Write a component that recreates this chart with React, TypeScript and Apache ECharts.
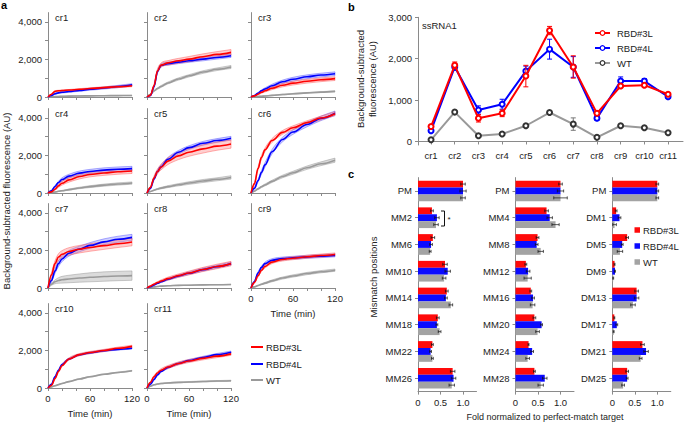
import React, { useEffect, useRef } from 'react';
import * as echarts from 'echarts';

// ================= Panel a: kinetics (Time (min) vs fluorescence) =================
const TIME_MIN = [0, 5, 10, 15, 20, 30, 45, 60, 80, 100, 120];
const A_PANELS = ['cr1', 'cr2', 'cr3', 'cr4', 'cr5', 'cr6', 'cr7', 'cr8', 'cr9', 'cr10', 'cr11'];
const A_TIME_TICKS = [0, 20, 40, 60, 80, 100, 120];
const A_TIME_LABELS = [0, 60, 120];
const A_Y_TICKS = [0, 1000, 2000, 3000, 4000];
const A_Y_LABELS = [0, 2000, 4000];

const cr1_RBD3L = [0, 150, 300, 330, 345, 370, 410, 450, 500, 550, 600];
const cr1_RBD3L_SD = [0, 20, 30, 30, 30, 30, 35, 40, 45, 50, 50];
const cr1_RBD4L = [0, 80, 170, 220, 250, 290, 350, 410, 480, 560, 650];
const cr1_RBD4L_SD = [0, 20, 30, 35, 40, 40, 45, 50, 55, 60, 60];
const cr1_WT = [0, 10, 20, 30, 35, 45, 55, 60, 70, 75, 80];
const cr1_WT_SD = [0, 5, 8, 10, 10, 10, 10, 10, 10, 10, 10];

const cr2_RBD3L = [0, 100, 600, 1400, 1700, 1820, 1930, 2020, 2150, 2270, 2380];
const cr2_RBD3L_SD = [0, 30, 80, 100, 110, 120, 130, 140, 150, 150, 150];
const cr2_RBD4L = [0, 80, 550, 1350, 1680, 1780, 1860, 1930, 2020, 2110, 2200];
const cr2_RBD4L_SD = [0, 30, 60, 80, 80, 80, 80, 80, 90, 90, 90];
const cr2_WT = [0, 150, 320, 450, 560, 750, 960, 1130, 1330, 1480, 1600];
const cr2_WT_SD = [0, 20, 30, 40, 50, 50, 60, 60, 70, 70, 80];

const cr3_RBD3L = [0, 60, 150, 250, 330, 470, 630, 740, 840, 920, 980];
const cr3_RBD3L_SD = [0, 20, 40, 50, 60, 80, 90, 100, 100, 100, 100];
const cr3_RBD4L = [0, 80, 200, 330, 430, 600, 810, 950, 1080, 1170, 1240];
const cr3_RBD4L_SD = [0, 20, 40, 50, 60, 80, 90, 100, 100, 100, 100];
const cr3_WT = [0, 10, 25, 40, 55, 85, 130, 170, 220, 260, 300];
const cr3_WT_SD = [0, 5, 10, 10, 15, 15, 20, 20, 20, 25, 25];

const cr4_RBD3L = [0, 60, 200, 380, 520, 700, 880, 990, 1070, 1130, 1170];
const cr4_RBD3L_SD = [0, 20, 50, 80, 100, 120, 130, 130, 130, 130, 130];
const cr4_RBD4L = [0, 120, 350, 560, 720, 900, 1060, 1150, 1220, 1270, 1300];
const cr4_RBD4L_SD = [0, 20, 50, 70, 90, 100, 110, 110, 120, 120, 120];
const cr4_WT = [0, 20, 50, 90, 120, 180, 270, 340, 420, 480, 530];
const cr4_WT_SD = [0, 5, 10, 15, 20, 30, 40, 50, 55, 60, 60];

const cr5_RBD3L = [0, 300, 800, 1150, 1380, 1700, 1980, 2170, 2350, 2500, 2610];
const cr5_RBD3L_SD = [0, 50, 100, 130, 150, 180, 200, 210, 220, 220, 220];
const cr5_RBD4L = [0, 250, 750, 1150, 1400, 1800, 2170, 2420, 2650, 2800, 2920];
const cr5_RBD4L_SD = [0, 40, 70, 90, 100, 100, 100, 100, 100, 100, 100];
const cr5_WT = [0, 80, 150, 210, 260, 340, 440, 530, 640, 730, 830];
const cr5_WT_SD = [0, 15, 25, 30, 40, 50, 60, 70, 80, 80, 90];

const cr6_RBD3L = [0, 500, 1300, 1900, 2300, 2800, 3230, 3480, 3750, 4000, 4230];
const cr6_RBD3L_SD = [0, 50, 80, 100, 100, 100, 100, 100, 100, 100, 100];
const cr6_RBD4L = [0, 250, 650, 1100, 1500, 2200, 2850, 3250, 3650, 3980, 4250];
const cr6_RBD4L_SD = [0, 40, 70, 100, 120, 120, 120, 120, 120, 120, 120];
const cr6_WT = [0, 100, 220, 330, 430, 620, 880, 1080, 1350, 1560, 1750];
const cr6_WT_SD = [0, 20, 30, 40, 50, 60, 70, 80, 90, 100, 110];

const cr7_RBD3L = [0, 700, 1300, 1650, 1800, 1950, 2070, 2160, 2260, 2360, 2450];
const cr7_RBD3L_SD = [0, 120, 150, 180, 190, 200, 200, 200, 200, 200, 200];
const cr7_RBD4L = [0, 400, 900, 1300, 1550, 1850, 2080, 2270, 2460, 2600, 2700];
const cr7_RBD4L_SD = [0, 80, 120, 150, 150, 150, 150, 150, 160, 160, 160];
const cr7_WT = [0, 200, 330, 400, 440, 480, 530, 570, 610, 640, 660];
const cr7_WT_SD = [0, 60, 100, 150, 180, 200, 220, 240, 250, 250, 250];

const cr8_RBD3L = [0, 100, 200, 290, 370, 500, 660, 800, 990, 1150, 1300];
const cr8_RBD3L_SD = [0, 20, 40, 50, 60, 80, 90, 100, 110, 120, 120];
const cr8_RBD4L = [0, 70, 160, 250, 330, 470, 640, 790, 980, 1140, 1300];
const cr8_RBD4L_SD = [0, 15, 25, 35, 40, 50, 60, 70, 80, 80, 80];
const cr8_WT = [0, 30, 60, 80, 100, 120, 140, 150, 165, 175, 185];
const cr8_WT_SD = [0, 5, 8, 10, 10, 10, 10, 10, 10, 10, 10];

const cr9_RBD3L = [0, 300, 650, 950, 1150, 1380, 1520, 1590, 1670, 1730, 1790];
const cr9_RBD3L_SD = [0, 40, 60, 70, 80, 80, 80, 80, 80, 80, 80];
const cr9_RBD4L = [0, 350, 800, 1100, 1300, 1480, 1570, 1610, 1660, 1700, 1740];
const cr9_RBD4L_SD = [0, 40, 60, 70, 80, 80, 80, 80, 80, 80, 80];
const cr9_WT = [0, 60, 130, 200, 260, 380, 530, 640, 770, 870, 950];
const cr9_WT_SD = [0, 10, 20, 30, 40, 50, 55, 60, 60, 60, 60];

const cr10_RBD3L = [0, 150, 500, 880, 1200, 1550, 1780, 1890, 2000, 2120, 2220];
const cr10_RBD3L_SD = [0, 20, 40, 50, 60, 60, 60, 60, 60, 60, 60];
const cr10_RBD4L = [0, 200, 600, 950, 1250, 1550, 1770, 1880, 1990, 2060, 2120];
const cr10_RBD4L_SD = [0, 20, 30, 40, 40, 40, 40, 40, 40, 40, 40];
const cr10_WT = [0, 60, 120, 180, 240, 340, 480, 600, 730, 830, 920];
const cr10_WT_SD = [0, 5, 10, 10, 15, 15, 20, 20, 20, 20, 20];

const cr11_RBD3L = [0, 300, 600, 800, 950, 1120, 1310, 1440, 1580, 1700, 1820];
const cr11_RBD3L_SD = [0, 40, 60, 70, 80, 80, 80, 80, 80, 80, 80];
const cr11_RBD4L = [0, 200, 450, 700, 880, 1100, 1310, 1460, 1630, 1780, 1910];
const cr11_RBD4L_SD = [0, 30, 40, 50, 50, 60, 60, 60, 60, 60, 60];
const cr11_WT = [0, 100, 170, 210, 240, 270, 300, 320, 350, 370, 390];
const cr11_WT_SD = [0, 10, 15, 20, 20, 20, 20, 25, 25, 25, 25];

// ================= Panel b: ssRNA1 endpoint =================
const B_CATEGORIES = ['cr1', 'cr2', 'cr3', 'cr4', 'cr5', 'cr6', 'cr7', 'cr8', 'cr9', 'cr10', 'cr11'];
const B_RBD3L = [360, 1840, 560, 680, 1580, 2680, 1800, 680, 1340, 1360, 1140];
const B_RBD3L_ERR = [30, 80, 90, 80, 260, 100, 270, 50, 40, 40, 30];
const B_RBD4L = [260, 1800, 760, 900, 1700, 2230, 1800, 560, 1460, 1460, 1080];
const B_RBD4L_ERR = [30, 80, 100, 120, 120, 240, 250, 50, 100, 60, 40];
const B_WT = [40, 710, 140, 180, 380, 700, 420, 100, 380, 330, 210];
const B_WT_ERR = [15, 20, 20, 20, 20, 25, 150, 15, 20, 20, 20];
const B_Y_TICKS = [0, 1000, 2000, 3000];

// ================= Panel c: mismatch tolerance =================
const C1_CATEGORIES = ['PM', 'MM2', 'MM6', 'MM10', 'MM14', 'MM18', 'MM22', 'MM26'];
const C1_RBD3L = [1.0, 0.31, 0.33, 0.6, 0.64, 0.44, 0.32, 0.77];
const C1_RBD3L_ERR = [0.05, 0.03, 0.04, 0.05, 0.03, 0.03, 0.02, 0.05];
const C1_RBD4L = [1.0, 0.42, 0.29, 0.66, 0.62, 0.42, 0.28, 0.79];
const C1_RBD4L_ERR = [0.07, 0.05, 0.03, 0.06, 0.03, 0.02, 0.02, 0.05];
const C1_WT = [1.0, 0.4, 0.27, 0.58, 0.73, 0.48, 0.32, 0.75];
const C1_WT_ERR = [0.05, 0.05, 0.02, 0.04, 0.04, 0.03, 0.02, 0.06];

const C2_CATEGORIES = ['PM', 'MM4', 'MM8', 'MM12', 'MM16', 'MM20', 'MM24', 'MM28'];
const C2_RBD3L = [1.0, 0.69, 0.49, 0.23, 0.34, 0.42, 0.29, 0.42];
const C2_RBD3L_ERR = [0.04, 0.04, 0.03, 0.02, 0.02, 0.03, 0.01, 0.02];
const C2_RBD4L = [1.0, 0.76, 0.47, 0.28, 0.39, 0.58, 0.37, 0.65];
const C2_RBD4L_ERR = [0.07, 0.06, 0.03, 0.04, 0.03, 0.02, 0.03, 0.05];
const C2_WT = [1.0, 0.89, 0.56, 0.27, 0.38, 0.49, 0.27, 0.56];
const C2_WT_ERR = [0.15, 0.08, 0.06, 0.08, 0.05, 0.04, 0.04, 0.06];

const C3_CATEGORIES = ['PM', 'DM1', 'DM5', 'DM9', 'DM13', 'DM17', 'DM21', 'DM25'];
const C3_RBD3L = [1.0, 0.085, 0.33, 0.05, 0.54, 0.045, 0.67, 0.33];
const C3_RBD3L_ERR = [0.03, 0.02, 0.03, 0.01, 0.04, 0.01, 0.04, 0.03];
const C3_RBD4L = [1.0, 0.16, 0.22, 0.06, 0.54, 0.1, 0.75, 0.33];
const C3_RBD4L_ERR = [0.03, 0.03, 0.02, 0.01, 0.05, 0.02, 0.05, 0.02];
const C3_WT = [1.0, 0.05, 0.17, 0.02, 0.46, 0.03, 0.63, 0.24];
const C3_WT_ERR = [0.03, 0.04, 0.06, 0.01, 0.05, 0.01, 0.03, 0.03];
const C_X_TICKS = [0, 0.5, 1];

// ================= styling / layout =================
const FONT = '"Liberation Sans", Arial, Helvetica, sans-serif';
const AXIS_COLOR = '#8a8a8a';
const TEXT_COLOR = '#222222';
const FS = 9.5;

const A_COL_X = [48, 147, 251];
const A_ZERO_Y = [97, 193, 288, 388];
const A_W = 84;
const A_H = 84.4;

const A_DATA: Record<string, Record<string, [number[], number[]]>> = {
  cr1: { RBD3L: [cr1_RBD3L, cr1_RBD3L_SD], RBD4L: [cr1_RBD4L, cr1_RBD4L_SD], WT: [cr1_WT, cr1_WT_SD] },
  cr2: { RBD3L: [cr2_RBD3L, cr2_RBD3L_SD], RBD4L: [cr2_RBD4L, cr2_RBD4L_SD], WT: [cr2_WT, cr2_WT_SD] },
  cr3: { RBD3L: [cr3_RBD3L, cr3_RBD3L_SD], RBD4L: [cr3_RBD4L, cr3_RBD4L_SD], WT: [cr3_WT, cr3_WT_SD] },
  cr4: { RBD3L: [cr4_RBD3L, cr4_RBD3L_SD], RBD4L: [cr4_RBD4L, cr4_RBD4L_SD], WT: [cr4_WT, cr4_WT_SD] },
  cr5: { RBD3L: [cr5_RBD3L, cr5_RBD3L_SD], RBD4L: [cr5_RBD4L, cr5_RBD4L_SD], WT: [cr5_WT, cr5_WT_SD] },
  cr6: { RBD3L: [cr6_RBD3L, cr6_RBD3L_SD], RBD4L: [cr6_RBD4L, cr6_RBD4L_SD], WT: [cr6_WT, cr6_WT_SD] },
  cr7: { RBD3L: [cr7_RBD3L, cr7_RBD3L_SD], RBD4L: [cr7_RBD4L, cr7_RBD4L_SD], WT: [cr7_WT, cr7_WT_SD] },
  cr8: { RBD3L: [cr8_RBD3L, cr8_RBD3L_SD], RBD4L: [cr8_RBD4L, cr8_RBD4L_SD], WT: [cr8_WT, cr8_WT_SD] },
  cr9: { RBD3L: [cr9_RBD3L, cr9_RBD3L_SD], RBD4L: [cr9_RBD4L, cr9_RBD4L_SD], WT: [cr9_WT, cr9_WT_SD] },
  cr10: { RBD3L: [cr10_RBD3L, cr10_RBD3L_SD], RBD4L: [cr10_RBD4L, cr10_RBD4L_SD], WT: [cr10_WT, cr10_WT_SD] },
  cr11: { RBD3L: [cr11_RBD3L, cr11_RBD3L_SD], RBD4L: [cr11_RBD4L, cr11_RBD4L_SD], WT: [cr11_WT, cr11_WT_SD] },
};

const A_STYLES = [
  { key: 'WT', name: 'WT', line: '#9a9a9a', fill: 'rgba(190,190,190,0.55)', stroke: 'rgba(150,150,150,0.8)' },
  { key: 'RBD4L', name: 'RBD#4L', line: '#0000ff', fill: 'rgba(130,130,255,0.38)', stroke: 'rgba(80,80,255,0.75)' },
  { key: 'RBD3L', name: 'RBD#3L', line: '#ff0000', fill: 'rgba(255,130,130,0.38)', stroke: 'rgba(255,80,80,0.75)' },
];

const fmtThousands = (v: number) => String(Math.round(v)).replace(/\B(?=(\d{3})+(?!\d))/g, ',');

// monotone cubic path through pixel points (rendering only)
function monoPath(ctx: any, p: number[][]) {
  const n = p.length;
  if (n < 2) return;
  const dx: number[] = [], m: number[] = [], t: number[] = [];
  for (let i = 0; i < n - 1; i++) {
    dx[i] = p[i + 1][0] - p[i][0];
    m[i] = dx[i] !== 0 ? (p[i + 1][1] - p[i][1]) / dx[i] : 0;
  }
  t[0] = m[0];
  t[n - 1] = m[n - 2];
  for (let i = 1; i < n - 1; i++) t[i] = m[i - 1] * m[i] <= 0 ? 0 : (m[i - 1] + m[i]) / 2;
  for (let i = 0; i < n - 1; i++) {
    if (m[i] === 0) { t[i] = 0; t[i + 1] = 0; continue; }
    const a = t[i] / m[i], b = t[i + 1] / m[i];
    const s = a * a + b * b;
    if (s > 9) { const tau = 3 / Math.sqrt(s); t[i] = tau * a * m[i]; t[i + 1] = tau * b * m[i]; }
  }
  for (let i = 0; i < n - 1; i++) {
    const h = dx[i] / 3;
    ctx.bezierCurveTo(p[i][0] + h, p[i][1] + t[i] * h, p[i + 1][0] - h, p[i + 1][1] - t[i + 1] * h, p[i + 1][0], p[i + 1][1]);
  }
}

const BandShape = (echarts as any).graphic.extendShape({
  shape: { top: [] as number[][], bot: [] as number[][] },
  buildPath(ctx: any, shape: any) {
    const top = shape.top as number[][];
    const bot = (shape.bot as number[][]).slice().reverse();
    if (!top.length) return;
    ctx.moveTo(top[0][0], top[0][1]);
    monoPath(ctx, top);
    ctx.lineTo(bot[0][0], bot[0][1]);
    monoPath(ctx, bot);
    ctx.closePath();
  },
});
(echarts as any).graphic.registerShape('kineticsBand', BandShape);

function txt(text: string, x: number, y: number, extra: any = {}) {
  return {
    type: 'text', x, y, silent: true, rotation: extra.rotation || 0,
    style: {
      text, fill: extra.fill || TEXT_COLOR, fontSize: extra.fontSize || FS, fontFamily: FONT,
      fontWeight: extra.fontWeight || 'normal',
      align: extra.align || 'left', textAlign: extra.align || 'left',
      verticalAlign: 'middle', textVerticalAlign: 'middle', lineHeight: extra.lineHeight,
    },
  };
}

function buildOption() {
  const grid: any[] = [], xAxis: any[] = [], yAxis: any[] = [], series: any[] = [], graphic: any[] = [];
  const axisLine = { show: true, lineStyle: { color: AXIS_COLOR, width: 1 } };
  const labelBase = { fontSize: FS, fontFamily: FONT, color: TEXT_COLOR };

  // ---------- panel a ----------
  A_PANELS.forEach((name, i) => {
    const col = i % 3, row = Math.floor(i / 3);
    const left = A_COL_X[col], zero = A_ZERO_Y[row];
    const g = grid.length;
    const isBottom = i >= 8;
    grid.push({ left, top: zero - A_H, width: A_W, height: A_H });
    xAxis.push({
      type: 'value', gridIndex: g, min: 0, max: 120,
      axisLine, splitLine: { show: false },
      axisTick: { show: true, length: 3, customValues: A_TIME_TICKS, lineStyle: { color: AXIS_COLOR } },
      axisLabel: { show: isBottom, customValues: A_TIME_LABELS, margin: 5, ...labelBase },
      name: isBottom ? 'Time (min)' : '', nameLocation: 'middle', nameGap: 20,
      nameTextStyle: { ...labelBase },
    });
    yAxis.push({
      type: 'value', gridIndex: g, min: 0, max: 4500,
      axisLine, splitLine: { show: false },
      axisTick: { show: true, length: 3, customValues: A_Y_TICKS, lineStyle: { color: AXIS_COLOR } },
      axisLabel: { show: col === 0, customValues: A_Y_LABELS, margin: 6, formatter: (v: number) => fmtThousands(v), ...labelBase },
    });
    const d = A_DATA[name];
    A_STYLES.forEach((st, k) => {
      const [mean, sd] = d[st.key];
      series.push({
        type: 'custom', xAxisIndex: g, yAxisIndex: g, silent: true, z: 1 + k,
        data: [[0, 0]],
        renderItem: (_p: any, api: any) => ({
          type: 'kineticsBand',
          shape: {
            top: TIME_MIN.map((t, j) => api.coord([t, mean[j] + sd[j]])),
            bot: TIME_MIN.map((t, j) => api.coord([t, Math.max(0, mean[j] - sd[j])])),
          },
          style: { fill: st.fill, stroke: st.stroke, lineWidth: 0.6 },
        }),
      });
      series.push({
        type: 'line', name: st.name, xAxisIndex: g, yAxisIndex: g, silent: true, z: 5 + k,
        data: TIME_MIN.map((t, j) => [t, mean[j]]),
        symbol: 'none', smooth: 0.35, smoothMonotone: 'x',
        lineStyle: { color: st.line, width: 1.6 },
      });
    });
    graphic.push(txt(name, left + 7, zero - A_H + 5));
  });

  // panel a legend
  [['RBD#3L', '#ff0000', 347], ['RBD#4L', '#0000ff', 364], ['WT', '#9a9a9a', 380]].forEach(([n, c, y]) => {
    graphic.push({ type: 'line', silent: true, shape: { x1: 251, y1: y as number, x2: 263, y2: y as number }, style: { stroke: c as string, lineWidth: 2 } });
    graphic.push(txt(n as string, 266, y as number));
  });

  // ---------- panel b ----------
  const gb = grid.length;
  grid.push({ left: 418, top: 17.3, width: 265, height: 127.7 });
  xAxis.push({
    type: 'value', gridIndex: gb, min: 0.45, max: 11.63,
    axisLine, splitLine: { show: false },
    axisTick: { show: true, length: 3, customValues: B_CATEGORIES.map((_, j) => j + 1), lineStyle: { color: AXIS_COLOR } },
    axisLabel: { customValues: B_CATEGORIES.map((_, j) => j + 1), margin: 5, formatter: (v: number) => B_CATEGORIES[Math.round(v) - 1] || '', ...labelBase },
  });
  yAxis.push({
    type: 'value', gridIndex: gb, min: -85, max: 3000,
    axisLine, splitLine: { show: false },
    axisTick: { show: true, length: 3, customValues: B_Y_TICKS, lineStyle: { color: AXIS_COLOR } },
    axisLabel: { customValues: B_Y_TICKS, margin: 6, formatter: (v: number) => fmtThousands(v), ...labelBase },
  });
  const bSeries = [
    { name: 'WT', vals: B_WT, err: B_WT_ERR, line: '#999999', mark: '#333333', z: 2 },
    { name: 'RBD#4L', vals: B_RBD4L, err: B_RBD4L_ERR, line: '#0000ff', mark: '#0000ff', z: 4 },
    { name: 'RBD#3L', vals: B_RBD3L, err: B_RBD3L_ERR, line: '#ff0000', mark: '#ff0000', z: 6 },
  ];
  bSeries.forEach((s) => {
    series.push({
      type: 'custom', xAxisIndex: gb, yAxisIndex: gb, silent: true, z: s.z,
      data: s.vals.map((v, j) => [j + 1, v, s.err[j]]),
      renderItem: (_p: any, api: any) => {
        const x = api.value(0), y = api.value(1), e = api.value(2);
        const a = api.coord([x, y + e]), b = api.coord([x, y - e]);
        const w = 2.5;
        const style = { stroke: s.mark === '#333333' ? '#777777' : s.line, lineWidth: 1 };
        return {
          type: 'group', children: [
            { type: 'line', shape: { x1: a[0], y1: a[1], x2: b[0], y2: b[1] }, style },
            { type: 'line', shape: { x1: a[0] - w, y1: a[1], x2: a[0] + w, y2: a[1] }, style },
            { type: 'line', shape: { x1: b[0] - w, y1: b[1], x2: b[0] + w, y2: b[1] }, style },
          ],
        };
      },
    });
    series.push({
      type: 'line', name: s.name, xAxisIndex: gb, yAxisIndex: gb, silent: true, z: s.z + 1,
      data: s.vals.map((v, j) => [j + 1, v]),
      symbol: 'emptyCircle', symbolSize: 5,
      lineStyle: { color: s.line, width: 2 },
      itemStyle: { color: s.mark, borderColor: s.mark, borderWidth: 1.2 },
    });
  });
  graphic.push(txt('ssRNA1', 422, 25));
  [['RBD#3L', '#ff0000', '#ff0000', 33], ['RBD#4L', '#0000ff', '#0000ff', 48], ['WT', '#999999', '#333333', 63]].forEach(([n, c, m, y]) => {
    graphic.push({ type: 'line', silent: true, shape: { x1: 595, y1: y as number, x2: 610, y2: y as number }, style: { stroke: c as string, lineWidth: 2 } });
    graphic.push({ type: 'circle', silent: true, shape: { cx: 602.5, cy: y as number, r: 2.3 }, style: { fill: '#fff', stroke: m as string, lineWidth: 1.2 } });
    graphic.push(txt(n as string, 617, y as number));
  });

  // ---------- panel c ----------
  const cPanels = [
    { left: 418, cats: C1_CATEGORIES, s: [[C1_RBD3L, C1_RBD3L_ERR], [C1_RBD4L, C1_RBD4L_ERR], [C1_WT, C1_WT_ERR]] },
    { left: 515.5, cats: C2_CATEGORIES, s: [[C2_RBD3L, C2_RBD3L_ERR], [C2_RBD4L, C2_RBD4L_ERR], [C2_WT, C2_WT_ERR]] },
    { left: 612.3, cats: C3_CATEGORIES, s: [[C3_RBD3L, C3_RBD3L_ERR], [C3_RBD4L, C3_RBD4L_ERR], [C3_WT, C3_WT_ERR]] },
  ];
  const cNames = ['RBD#3L', 'RBD#4L', 'WT'];
  const cColors = ['#ff0a0a', '#0a0aff', '#a3a3a3'];
  const BAR_W = 6.9;
  cPanels.forEach((p) => {
    const g = grid.length;
    grid.push({ left: p.left, top: 177.6, width: 58.5, height: 214 });
    xAxis.push({
      type: 'value', gridIndex: g, min: 0, max: 1.3,
      axisLine, splitLine: { show: false },
      axisTick: { show: true, length: 3, customValues: C_X_TICKS, lineStyle: { color: AXIS_COLOR } },
      axisLabel: { customValues: C_X_TICKS, margin: 6, formatter: (v: number) => (v === 0 ? '0' : v.toFixed(1)), ...labelBase },
    });
    yAxis.push({
      type: 'category', gridIndex: g, data: p.cats, inverse: true,
      axisLine, splitLine: { show: false },
      axisTick: { show: true, length: 3, alignWithLabel: true, lineStyle: { color: AXIS_COLOR } },
      axisLabel: { margin: 6, ...labelBase },
    });
    p.s.forEach(([vals, err], k) => {
      series.push({
        type: 'bar', name: cNames[k], xAxisIndex: g, yAxisIndex: g, silent: true,
        data: vals, barWidth: BAR_W, barGap: '0%', itemStyle: { color: cColors[k] }, z: 2,
      });
    });
    p.s.forEach(([vals, err], k) => {
      series.push({
        type: 'custom', xAxisIndex: g, yAxisIndex: g, silent: true, z: 5,
        data: vals.map((v, j) => [v, j, err[j]]),
        renderItem: (_p: any, api: any) => {
          const v = api.value(0), j = api.value(1), e = api.value(2);
          const c = api.coord([v, j]);
          const y = c[1] + (k - 1) * BAR_W;
          const a = api.coord([v - e, j])[0], b = api.coord([v + e, j])[0];
          const style = { stroke: '#111111', lineWidth: 0.7 };
          return {
            type: 'group', children: [
              { type: 'line', shape: { x1: a, y1: y, x2: b, y2: y }, style },
              { type: 'line', shape: { x1: a, y1: y - 1.5, x2: a, y2: y + 1.5 }, style },
              { type: 'line', shape: { x1: b, y1: y - 1.5, x2: b, y2: y + 1.5 }, style },
            ],
          };
        },
      });
    });
  });
  // significance bracket (MM2)
  graphic.push({ type: 'polyline', silent: true, shape: { points: [[441, 211], [444.5, 211], [444.5, 226], [441, 226]] }, style: { stroke: '#111', lineWidth: 1, fill: null } });
  graphic.push(txt('*', 447.5, 219, { fontSize: 8 }));
  // panel c legend
  cNames.forEach((n, k) => {
    const y = 230 + k * 16;
    graphic.push({ type: 'rect', silent: true, shape: { x: 634.5, y: y - 2.75, width: 5.5, height: 5.5 }, style: { fill: cColors[k] } });
    graphic.push(txt(n, 643, y));
  });

  // ---------- titles ----------
  graphic.push(txt('Background-subtracted fluorescence (AU)', 6, 201, { rotation: Math.PI / 2, align: 'center' }));
  graphic.push(txt('Background-subtracted\nfluorescence (AU)', 366.5, 79, { rotation: Math.PI / 2, align: 'center', lineHeight: 11.5 }));
  graphic.push(txt('Mismatch positions', 373, 277, { rotation: Math.PI / 2, align: 'center' }));
  graphic.push(txt('Fold normalized to perfect-match target', 545, 416.5, { align: 'center', fontSize: 9 }));
  graphic.push(txt('a', 1, 5, { fontWeight: 'bold', fontSize: 11, fill: '#000' }));
  graphic.push(txt('b', 348, 7, { fontWeight: 'bold', fontSize: 11, fill: '#000' }));
  graphic.push(txt('c', 348, 174, { fontWeight: 'bold', fontSize: 11, fill: '#000' }));

  return { animation: false, backgroundColor: '#ffffff', grid, xAxis, yAxis, series, graphic };
}

export default function App() {
  const ref = useRef<HTMLDivElement>(null);
  useEffect(() => {
    if (!ref.current) return;
    const chart = echarts.init(ref.current, null, { renderer: 'svg' });
    chart.setOption(buildOption() as any);
    return () => chart.dispose();
  }, []);
  return <div ref={ref} style={{ position: 'fixed', left: 0, top: 0, width: 685, height: 423, background: '#fff' }} />;
}
